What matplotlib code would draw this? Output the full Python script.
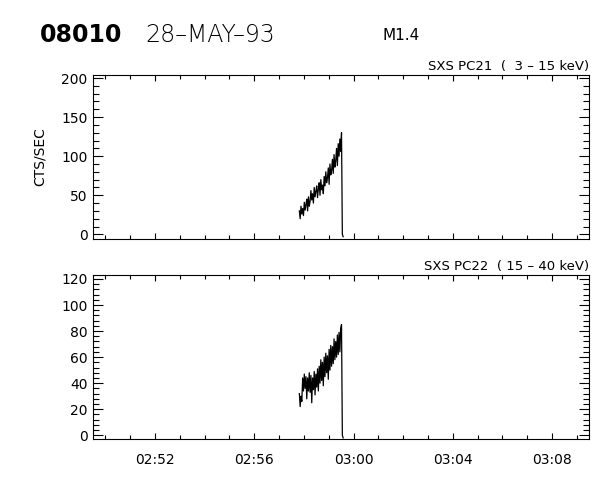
import numpy as np
import matplotlib
matplotlib.use("Agg")
import matplotlib.pyplot as plt
from matplotlib.ticker import MultipleLocator, FuncFormatter

# ---- data ----
start_sec = 2 * 3600 + 57 * 60 + 49      # 02:57:49, first sample
cadence = 2.0                            # seconds between samples
pc21 = [30, 20, 36, 26, 33, 24, 41, 31, 38, 45, 30,
        48, 36, 42, 56, 44, 52, 40, 60, 48, 55,
        62, 47, 58, 66, 50, 70, 57, 63, 52, 74,
        62, 80, 66, 72, 85, 64, 90, 76, 82, 96,
        78, 102, 86, 94, 110, 88, 116, 100, 122, 106, 130,
        0, -3]
pc22 = [32, 22, 30, 26, 44, 34, 47, 36, 45, 28, 44,
        34, 48, 33, 46, 25, 44, 35, 49, 31, 47,
        37, 51, 34, 53, 40, 58, 42, 56, 38, 60,
        45, 63, 48, 61, 43, 66, 50, 69, 53, 68,
        55, 74, 58, 72, 60, 77, 62, 79, 64, 82, 85,
        0, -2]
x_range = ("02:49:30", "03:09:30")
x_tick_labels = ["02:52", "02:56", "03:00", "03:04", "03:08"]
panel1_label = "SXS PC21  (  3 \u2013 15 keV)"
panel2_label = "SXS PC22  ( 15 \u2013 40 keV)"
ylim1 = (-6, 204)
ylim2 = (-3, 123)
ylabel = "CTS/SEC"

def hms(s):
    p = [int(v) for v in s.split(":")]
    while len(p) < 3:
        p.append(0)
    return p[0] * 3600 + p[1] * 60 + p[2]

t = start_sec + cadence * np.arange(len(pc21))
x0, x1 = hms(x_range[0]), hms(x_range[1])
major_ticks = [hms(s) for s in x_tick_labels]

fig = plt.figure(figsize=(6, 4.8), dpi=100)
ax1 = fig.add_axes([0.155, 0.502, 0.827, 0.342])
ax2 = fig.add_axes([0.155, 0.085, 0.827, 0.342])

def fmt_time(v, pos):
    v = int(round(v))
    return "%02d:%02d" % (v // 3600, (v % 3600) // 60)

for ax, y, lim, lab, maj, mnr in [
        (ax1, pc21, ylim1, panel1_label, 50, 10),
        (ax2, pc22, ylim2, panel2_label, 20, 4)]:
    ax.plot(t, y, color="black", lw=0.9)
    ax.set_xlim(x0, x1)
    ax.set_ylim(*lim)
    ax.xaxis.set_major_locator(plt.FixedLocator(major_ticks))
    ax.xaxis.set_minor_locator(MultipleLocator(60))
    ax.yaxis.set_major_locator(MultipleLocator(maj))
    ax.yaxis.set_minor_locator(MultipleLocator(mnr))
    ax.tick_params(which="both", direction="in", top=True, right=True,
                   width=0.8, labelsize=10, pad=4)
    ax.tick_params(axis="y", which="major", length=7)
    ax.tick_params(axis="y", which="minor", length=4)
    ax.tick_params(axis="x", which="major", length=4)
    ax.tick_params(axis="x", which="minor", length=3)
    for sp in ax.spines.values():
        sp.set_linewidth(0.8)
    ax.text(1.0, 1.01, lab, transform=ax.transAxes, ha="right", va="bottom",
            fontsize=9.5)

ax1.set_xticklabels([])
ax2.xaxis.set_major_formatter(FuncFormatter(fmt_time))
ax2.tick_params(axis="x", pad=10)
ax1.set_ylabel(ylabel, fontsize=10, labelpad=10)

fig.text(40 / 600, 1 - 42 / 480, "08010", fontsize=17, fontweight="bold",
         ha="left", va="baseline")
fig.text(145 / 600, 1 - 42 / 480, "28\u2013MAY\u201393", fontsize=17,
         fontweight="light", ha="left", va="baseline")
fig.text(383 / 600, 1 - 40 / 480, "M1.4", fontsize=11, ha="left",
         va="baseline")

fig.savefig("out.png", dpi=100)
